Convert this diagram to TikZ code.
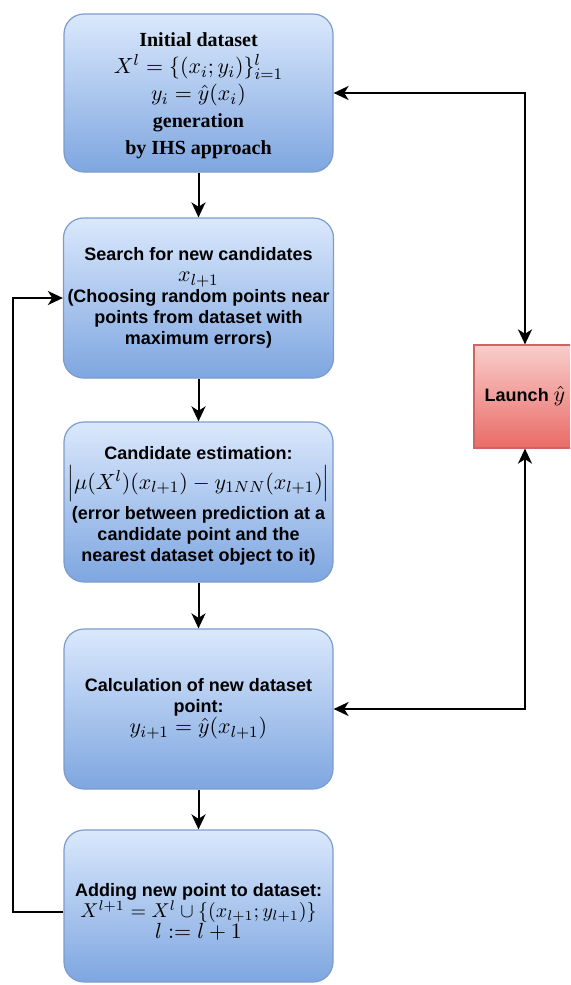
\documentclass[tikz,border=0pt]{standalone}
\usepackage{fontspec}
\setmainfont{Liberation Serif}
\setsansfont{Liberation Sans}
\usetikzlibrary{arrows.meta}

\definecolor{bluetop}{HTML}{DAE8FC}
\definecolor{bluebot}{HTML}{7EA6E0}
\definecolor{blueedge}{HTML}{7C9CCB}
\definecolor{redtop}{HTML}{F8CECC}
\definecolor{redbot}{HTML}{EA6B66}
\definecolor{rededge}{HTML}{D06460}

% formulas are set a little larger than the surrounding text
\newcommand\mathtxt[1]{{\fontsize{11}{12}\selectfont$#1$}}
\newcommand\mathsmall[1]{{\fontsize{9.6}{11}\selectfont$#1$}}

\begin{document}
\begin{tikzpicture}[x=0.5pt,y=-0.5pt,
  stagefont/.style={font=\sffamily\bfseries\fontsize{9}{10.5}\selectfont},
  stagebox/.style={draw=blueedge, line width=0.6pt, rounded corners=10pt,
    top color=bluetop, bottom color=bluebot,
    minimum width=134.5pt, minimum height=80pt, align=center, inner sep=2pt,
    stagefont},
  stagetext/.style={align=center, inner sep=1pt, stagefont},
  launchbox/.style={draw=rededge, line width=0.6pt,
    top color=redtop, bottom color=redbot,
    minimum width=51pt, minimum height=51.5pt, align=center, inner sep=1pt,
    stagefont},
  tip/.tip={Stealth[length=7.5pt,width=7pt,inset=2.2pt]},
  link/.style={line width=1pt, -tip},
  duplex/.style={line width=1pt, tip-tip}
]
\useasboundingbox (0,0) rectangle (570,985);
\clip (0,0) rectangle (570,985);

% main sequence of stages
\node[stagebox, minimum height=79pt] (init) at (198.5,93) {};
\node[stagetext, font=\rmfamily\bfseries\fontsize{10}{13.5}\selectfont]
  (inittext) at ([yshift=-1.5pt]init.center)
  {Initial dataset\\
   \mathtxt{X^l = \{(x_i;y_i)\}_{i=1}^{l}}\\
   \mathtxt{y_i = \hat{y}(x_i)}\\
   generation\\
   by IHS approach};

\node[stagebox] (search) at (198.5,298)
  {Search for new candidates\\
   \mathtxt{x_{l+1}}\\
   (Choosing random points near\\
   points from dataset with\\
   maximum errors)};

\node[stagebox] (estim) at (198.5,502) {};
\node[stagetext] (estimtext) at ([yshift=-2pt]estim.center)
  {Candidate estimation:\\[2pt]
   \mathtxt{\left|\mu(X^l)(x_{l+1}) - y_{1NN}(x_{l+1})\right|}\\[1.5pt]
   (error between prediction at a\\
   candidate point and the\\
   nearest dataset object to it)};

\node[stagebox] (calc) at (198.5,709)
  {Calculation of new dataset\\
   point:\\
   \mathtxt{y_{i+1} = \hat{y}(x_{l+1})}};

\node[stagebox, minimum height=76pt] (add) at (198.5,906) {};
\node[stagetext] (addtext) at ([yshift=-3pt]add.center)
  {Adding new point to dataset:\\
   \mathsmall{X^{l+1} = X^l \cup \{(x_{l+1};y_{l+1})\}}\\
   \mathtxt{l := l+1}};

% external model run
\node[launchbox] (launch) at (525,396.5) {Launch \mathtxt{\hat{y}}};

% turning point of the feedback loop
\coordinate (loopx) at (13,0);

% connectors
\draw[link] (init) -- (search);
\draw[link] (search) -- (estim);
\draw[link] (estim) -- (calc);
\draw[link] (calc) -- (add);
\draw[link] (add.west |- addtext) -- (loopx |- addtext) |- (search.west);
\draw[duplex] (init.east) -| (launch.north);
\draw[duplex] (calc.east) -| (launch.south);
\end{tikzpicture}
\end{document}
